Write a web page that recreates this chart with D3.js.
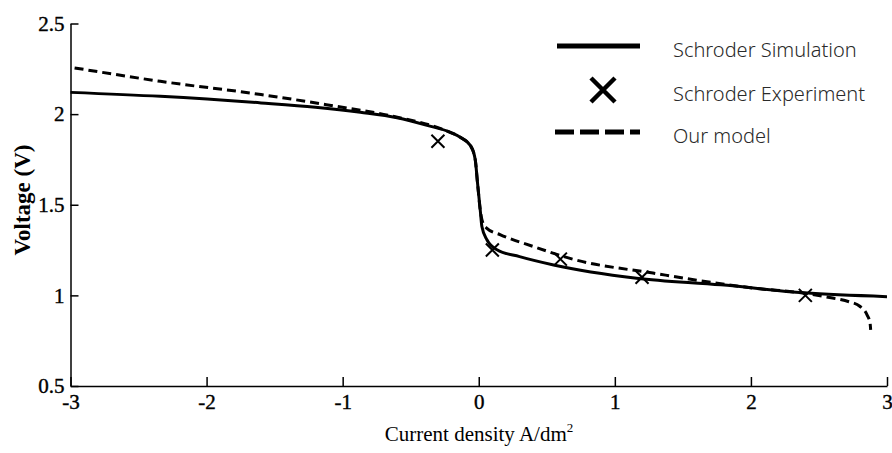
<!DOCTYPE html>
<html>
<head>
<meta charset="utf-8">
<script src="https://cdn.jsdelivr.net/npm/d3@7"></script>
<style>
  body { margin: 0; background: #fff; }
  svg { display: block; }
</style>
</head>
<body>
<div id="chart"></div>
<script>
// Schroder simulation (solid line)
const simX = [-3, -2.34, -1.6, -1.2, -0.87, -0.6, -0.38, -0.2, -0.136, -0.06, -0.026, -0.009, 0.011, 0.023, 0.06, 0.134, 0.3, 0.55, 1.16, 1.78, 2.39, 3.0];
const simY = [2.12, 2.098, 2.062, 2.038, 2.01, 1.98, 1.938, 1.897, 1.872, 1.825, 1.75, 1.62, 1.47, 1.38, 1.307, 1.252, 1.214, 1.168, 1.095, 1.058, 1.014, 0.993];

// Schroder experiment (x markers)
const expX = [-0.3, 0.1, 0.6, 1.2, 2.4];
const expY = [1.85, 1.25, 1.2, 1.1, 1.0];

// our model (dashed line)
const modX = [-2.97, -2.34, -1.6, -1.12, -0.63, -0.26, -0.136, -0.06, -0.026, -0.009, 0.011, 0.03, 0.06, 0.16, 0.4, 0.7, 1.28, 2.02, 2.39, 2.6, 2.72, 2.8, 2.855, 2.875, 2.88];
const modY = [2.255, 2.181, 2.108, 2.052, 1.988, 1.914, 1.872, 1.825, 1.75, 1.62, 1.47, 1.40, 1.37, 1.334, 1.27, 1.198, 1.123, 1.04, 1.012, 0.985, 0.965, 0.94, 0.89, 0.85, 0.81];

const xTicks = [-3, -2, -1, 0, 1, 2, 3];
const yTicks = [0.5, 1, 1.5, 2, 2.5];
const legendLabels = ["Schroder Simulation", "Schroder Experiment", "Our model"];

const serif = "'Liberation Serif', 'Times New Roman', serif";
const width = 892, height = 453;
const svg = d3.select("#chart").append("svg")
    .attr("width", width)
    .attr("height", height);

const x = d3.scaleLinear().domain([-3, 3]).range([70.5, 887]);
const y = d3.scaleLinear().domain([0.5, 2.5]).range([386, 23.5]);

// axes, ticks point inward
const xAxis = svg.append("g")
    .attr("transform", `translate(0,${y(0.5)})`)
    .call(d3.axisBottom(x).tickValues(xTicks).tickFormat(d => d < 0 ? "-" + Math.abs(d) : String(d))
        .tickSizeInner(-9).tickSizeOuter(0).tickPadding(8));
const yAxis = svg.append("g")
    .attr("transform", `translate(${x(-3)},0)`)
    .call(d3.axisLeft(y).tickValues(yTicks).tickFormat(d => String(d))
        .tickSizeInner(-8).tickSizeOuter(0).tickPadding(6));
svg.selectAll(".domain, .tick line").attr("stroke", "#000").attr("stroke-width", 1.5);
[xAxis, yAxis].forEach(a => a.attr("font-family", serif).attr("font-size", 21));
svg.selectAll(".tick text")
    .attr("fill", "#000")
    .attr("stroke", "#000")
    .attr("stroke-width", 0.4);

// axis titles
const xt = svg.append("text")
    .attr("x", 479).attr("y", 441)
    .attr("text-anchor", "middle")
    .attr("font-family", serif)
    .attr("font-size", 21);
xt.append("tspan").text("Current density A/dm");
xt.append("tspan").attr("dy", -9).attr("font-size", 13).text("2");

svg.append("text")
    .attr("transform", "translate(30,200) rotate(-90)")
    .attr("text-anchor", "middle")
    .attr("font-family", serif)
    .attr("font-weight", "bold")
    .attr("font-size", 23)
    .text("Voltage (V)");

const line = d3.line()
    .x(d => x(d[0]))
    .y(d => y(d[1]))
    .curve(d3.curveMonotoneX);

svg.append("path")
    .datum(d3.zip(simX, simY))
    .attr("d", line)
    .attr("fill", "none")
    .attr("stroke", "#000")
    .attr("stroke-width", 3);

svg.append("path")
    .datum(d3.zip(modX, modY))
    .attr("d", line)
    .attr("fill", "none")
    .attr("stroke", "#000")
    .attr("stroke-width", 3)
    .attr("stroke-dasharray", "9,5");

function cross(g, cx, cy, r, w) {
  g.append("path")
    .attr("d", `M${cx - r},${cy - r}L${cx + r},${cy + r}M${cx - r},${cy + r}L${cx + r},${cy - r}`)
    .attr("stroke", "#000")
    .attr("stroke-width", w)
    .attr("fill", "none");
}

const marks = svg.append("g");
d3.zip(expX, expY).forEach(d => cross(marks, x(d[0]), y(d[1]), 6.5, 2));

// legend
const legend = svg.append("g");
legend.append("line")
    .attr("x1", 557).attr("x2", 640).attr("y1", 46).attr("y2", 46)
    .attr("stroke", "#000").attr("stroke-width", 5);
cross(legend, 603, 90, 12, 4.5);
legend.append("line")
    .attr("x1", 555).attr("x2", 640).attr("y1", 132).attr("y2", 132)
    .attr("stroke", "#000").attr("stroke-width", 5)
    .attr("stroke-dasharray", "19,6");
legend.selectAll("text")
    .data(legendLabels)
    .join("text")
    .attr("x", 673)
    .attr("y", (d, i) => [57, 101, 143][i])
    .attr("font-family", "'Noto Sans', sans-serif")
    .attr("font-weight", 300)
    .attr("font-size", 20)
    .attr("fill", "#2a2a2a")
    .text(d => d);
</script>
</body>
</html>
